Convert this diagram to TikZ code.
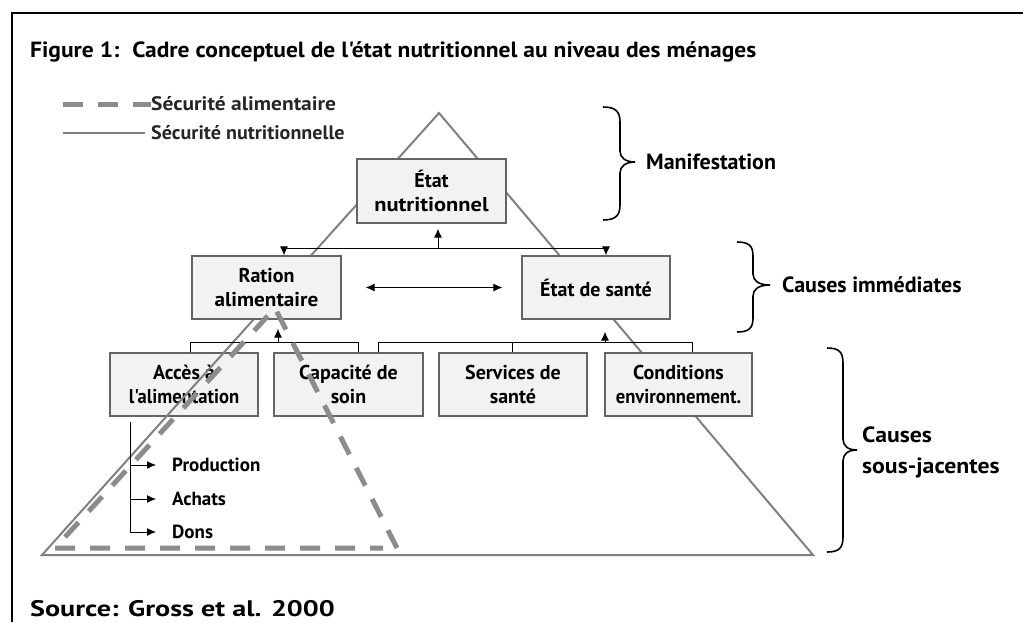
\documentclass[tikz,border=0pt]{standalone}
\usepackage{fontspec}
\usepackage{graphicx}
\setmainfont{PT Sans}[Ligatures=TeXOff]
\usetikzlibrary{arrows.meta}
\definecolor{linegray}{RGB}{128,128,128}
\definecolor{dashgray}{RGB}{140,140,140}
\definecolor{boxfill}{RGB}{242,242,242}
\definecolor{boxline}{RGB}{100,100,100}
\newcommand{\xsc}[2]{\scalebox{#1}[1]{#2}}
\begin{document}
\begin{tikzpicture}[x=1pt,y=-1pt,
  box/.style={draw=boxline, fill=boxfill, line width=1.2pt, minimum width=149pt, minimum height=63pt,
    inner sep=0pt, align=center, font=\bfseries\fontsize{20}{24}\selectfont},
  arr/.style={-{Latex[length=9pt,width=8pt]}, line width=1pt},
  arrr/.style={{Latex[length=9pt,width=8pt]}-{Latex[length=9pt,width=8pt]}, line width=1pt},
  conn/.style={line width=1pt},
  lab/.style={inner sep=0pt, font=\bfseries\fontsize{22}{31}\selectfont},
  sub/.style={inner sep=0pt, font=\bfseries\fontsize{19}{22}\selectfont},
  leg/.style={inner sep=0pt, font=\bfseries\fontsize{19.5}{22}\selectfont, text=black!85},
  bracestyle/.style={line width=1.6pt},
]
\useasboundingbox (0,0) rectangle (1023,622);
% frame
\draw[line width=2pt] (12,622) -- (12,13) -- (1023,13);
% title
\node[anchor=base west, inner sep=0pt, font=\bfseries\fontsize{22}{24}\selectfont] (title) at (30,57)
  {\xsc{1.068}{Figure 1:\hspace{12pt}Cadre conceptuel de l'état nutritionnel au niveau des ménages}};
% legend
\node[leg, anchor=west] (leg1) at (151,104) {\xsc{1.1}{Sécurité alimentaire}};
\node[leg, anchor=west] (leg2) at (151,133) {\xsc{1.03}{Sécurité nutritionnelle}};
\draw[dashgray, line width=5pt, dash pattern=on 20pt off 15pt] ([xshift=-88pt]leg1.west) -- (leg1.west);
\draw[linegray, line width=2pt] ([xshift=-88pt]leg2.west) -- ([xshift=-6pt]leg2.west);
% access box under the solid triangle
\node[box, minimum width=148pt] (acces) at (184,384.5) {Accès à\\\xsc{0.93}{l'alimentation}};
% solid triangle
\draw[linegray, line width=2pt] (439,113) -- (813,555) -- (42,555) -- cycle;
% boxes
\node[box, minimum height=64pt] (etatnut) at (431.5,191) {État\\\xsc{1.12}{nutritionnel}};
\node[box] (ration) at (266.5,287.5) {Ration\\\xsc{1.06}{alimentaire}};
\node[box, minimum width=148pt] (sante) at (596,287.5) {État de santé};
\node[box] (capacite) at (348.5,384.5) {Capacité de\\soin};
\node[box, minimum width=148pt] (services) at (513,384.5) {Services de\\santé};
\node[box, minimum width=147pt] (conditions) at (678.5,384.5) {Conditions\\\xsc{0.93}{environnement.}};
% top connectors
\coordinate (tb) at (438,248);
\coordinate (tl) at (284,248);
\coordinate (tr) at (606,248);
\draw[conn] (tl) -- (tr);
\draw[arr, shorten >=5pt] (tb) -- (tb |- etatnut.south);
\draw[arr] (tl) -- (tl |- ration.north);
\draw[arr] (tr) -- (tr |- sante.north);
\draw[arrr] ([xshift=24pt]ration.east) -- ([xshift=-19pt]sante.west);
% lower connectors
\coordinate (bl1) at (190,342);
\coordinate (bl2) at (358,342);
\coordinate (bla) at (278,342);
\draw[conn] (acces.north -| bl1) |- (bl2) -- (bl2 |- capacite.north);
\draw[arr, shorten >=9pt] (bla) -- (bla |- ration.south);
\coordinate (br1) at (378,342);
\coordinate (br2) at (692,342);
\coordinate (brs) at (512,342);
\coordinate (bra) at (605,342);
\draw[conn] (capacite.north -| br1) |- (br2) -- (br2 |- conditions.north);
\draw[conn] (brs) -- (brs |- services.north);
\draw[arr, shorten >=12pt] (bra) -- (bra |- sante.south);
% sub items
\node[sub, anchor=west] (prod) at (172,465) {Production};
\node[sub, anchor=west] (achats) at (172,499) {Achats};
\node[sub, anchor=west] (dons) at (172,532) {Dons};
\coordinate (pv) at (130,422);
\draw[arr, shorten >=16pt] (pv) |- (dons.west);
\draw[arr, shorten >=16pt] (pv |- prod.west) -- (prod.west);
\draw[arr, shorten >=16pt] (pv |- achats.west) -- (achats.west);
% dashed triangle
\draw[dashgray, line width=5pt, dash pattern=on 20pt off 15pt, line join=miter] (397,548) -- (275,308) -- (55,548) -- (383,548);
% braces
\draw[bracestyle] (603,107) .. controls (615,107) and (620,111) .. (620,122) -- (620,151)
  .. controls (620,158) and (626,162) .. (635,162) .. controls (626,162) and (620,166) .. (620,173)
  -- (620,205) .. controls (620,216) and (615,220) .. (603,220);
\draw[bracestyle] (737,242) .. controls (749,242) and (753,246) .. (753,256) -- (753,274)
  .. controls (753,281) and (759,285) .. (770,285) .. controls (759,285) and (753,289) .. (753,296)
  -- (753,318) .. controls (753,328) and (749,332) .. (737,332);
\draw[bracestyle] (827,348) .. controls (839,348) and (843,352) .. (843,363) -- (843,439)
  .. controls (843,446) and (848,450) .. (857,450) .. controls (848,450) and (843,454) .. (843,461)
  -- (843,537) .. controls (843,548) and (839,552) .. (827,552);
\node[lab, anchor=west] (manif) at (646,162) {Manifestation};
\node[lab, anchor=west] (cimm) at (782,285) {Causes immédiates};
\node[lab, anchor=west, align=left] (csous) at (862,452) {\xsc{1.08}{Causes}\\\xsc{1.08}{sous-jacentes}};
% source
\node[anchor=base west, inner sep=0pt, font=\bfseries\fontsize{22.5}{24}\selectfont] (source) at (30,616) {\xsc{1.25}{Source: Gross et al. 2000}};
\end{tikzpicture}
\end{document}
